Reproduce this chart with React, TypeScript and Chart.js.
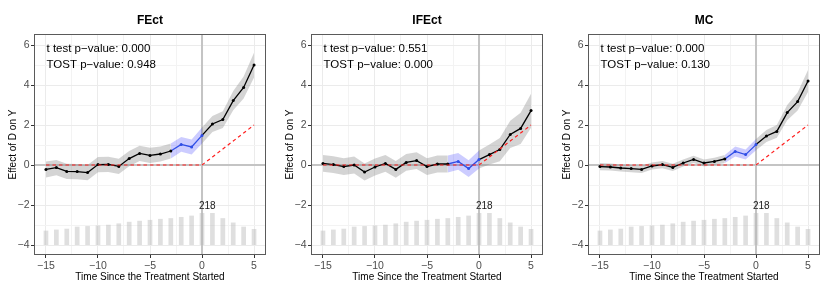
import React, { useEffect, useRef } from "react";
import { Chart, registerables } from "chart.js";
Chart.register(...registerables);

// ---- data ----
const periods = [-15, -14, -13, -12, -11, -10, -9, -8, -7, -6, -5, -4, -3, -2, -1, 0, 1, 2, 3, 4, 5];
const counts = [98, 105, 111, 125, 129, 133, 138, 147, 158, 165, 171, 178, 183, 191, 200, 218, 218, 183, 153, 125, 109];
const trueEffect = [0, 0, 0, 0, 0, 0, 0, 0, 0, 0, 0, 0, 0, 0, 0, 0, 0.4, 0.8, 1.2, 1.6, 2.0];

const fectEst = [-0.22, -0.13, -0.32, -0.33, -0.38, 0.02, 0.03, -0.07, 0.32, 0.58, 0.48, 0.55, 0.7, 1.03, 0.9, 1.48, 2.05, 2.27, 3.22, 3.88, 5.0];
const fectHalf = [0.4, 0.38, 0.38, 0.38, 0.38, 0.38, 0.38, 0.38, 0.38, 0.38, 0.38, 0.38, 0.38, 0.37, 0.37, 0.4, 0.4, 0.42, 0.48, 0.55, 0.62];

const ifectEst = [0.08, 0.02, -0.08, 0.0, -0.35, -0.1, 0.08, -0.22, 0.13, 0.22, -0.08, 0.05, 0.05, 0.18, -0.18, 0.27, 0.52, 0.77, 1.53, 1.83, 2.72];
const ifectHalf = [0.42, 0.42, 0.42, 0.42, 0.42, 0.42, 0.42, 0.42, 0.42, 0.42, 0.42, 0.42, 0.42, 0.42, 0.42, 0.45, 0.5, 0.58, 0.68, 0.78, 0.85];

const mcEst = [-0.08, -0.1, -0.15, -0.18, -0.22, -0.05, 0.02, -0.12, 0.1, 0.28, 0.1, 0.18, 0.3, 0.68, 0.52, 1.02, 1.45, 1.68, 2.62, 3.17, 4.2];
const mcHalf = [0.18, 0.18, 0.18, 0.18, 0.18, 0.18, 0.18, 0.18, 0.18, 0.18, 0.18, 0.18, 0.2, 0.25, 0.25, 0.28, 0.3, 0.32, 0.38, 0.45, 0.55];

const panelTitles = ["FEct", "IFEct", "MC"];
const tTestP = ["0.000", "0.551", "0.000"];
const tostP = ["0.948", "0.000", "0.130"];

const windowStart = -3;
const windowEnd = 0;

const xTicks = [-15, -12.5, -10, -7.5, -5, -2.5, 0, 2.5, 5];
const xMajor = [-15, -10, -5, 0, 5];
const yTicks = [-4, -3, -2, -1, 0, 1, 2, 3, 4, 5, 6];
const yMajor = [-4, -2, 0, 2, 4, 6];

const xLabel = "Time Since the Treatment Started";
const yLabel = "Effect of D on Y";

// ---- style ----
const FONT = "'Liberation Sans', Arial, Helvetica, sans-serif";
const BLUE = "#2f4ee6";
const barBase = -4;
const barSpan = 1.6;

const fmt = (v: number) => (v < 0 ? "\u2212" + Math.abs(v) : String(v));

const panels = [
  { est: fectEst, half: fectHalf },
  { est: ifectEst, half: ifectHalf },
  { est: mcEst, half: mcHalf },
];

function Panel({ idx }: { idx: number }) {
  const ref = useRef<HTMLCanvasElement | null>(null);
  useEffect(() => {
    const { est, half } = panels[idx];
    const inWin = (x: number) => x >= windowStart && x <= windowEnd;
    const inner = (x: number) => x > windowStart && x < windowEnd;
    const grayUp = periods.map((x, i) => ({ x, y: inner(x) ? null : est[i] + half[i] }));
    const grayLo = periods.map((x, i) => ({ x, y: inner(x) ? null : est[i] - half[i] }));
    const blueUp = periods.map((x, i) => ({ x, y: inWin(x) ? est[i] + half[i] : null }));
    const blueLo = periods.map((x, i) => ({ x, y: inWin(x) ? est[i] - half[i] : null }));
    const maxCount = Math.max(...counts);
    const bars = periods.map((x, i) => ({ x, y: [barBase, barBase + (counts[i] / maxCount) * barSpan] }));

    const decor = {
      id: "decor" + idx,
      beforeDatasetsDraw(chart: any) {
        const { ctx, chartArea: a, scales } = chart;
        ctx.save();
        ctx.strokeStyle = "#c4c4c4";
        ctx.lineWidth = 2;
        const y0 = scales.y.getPixelForValue(0);
        const x0 = scales.x.getPixelForValue(0);
        ctx.beginPath();
        ctx.moveTo(a.left, y0);
        ctx.lineTo(a.right, y0);
        ctx.moveTo(x0, a.top);
        ctx.lineTo(x0, a.bottom);
        ctx.stroke();
        ctx.restore();
      },
      afterDatasetsDraw(chart: any) {
        const { ctx, chartArea: a, scales } = chart;
        ctx.save();
        const maxXs = periods.filter((_, i) => counts[i] === maxCount);
        const lx = scales.x.getPixelForValue(maxXs.reduce((s, v) => s + v, 0) / maxXs.length);
        const ly = scales.y.getPixelForValue(barBase + barSpan) - 7;
        ctx.fillStyle = "#1a1a1a";
        ctx.font = `10px ${FONT}`;
        ctx.textAlign = "center";
        ctx.textBaseline = "middle";
        ctx.fillText(String(maxCount), lx, ly);
        ctx.textAlign = "left";
        ctx.fillStyle = "#000";
        ctx.font = `11.5px ${FONT}`;
        ctx.fillText(`t test p\u2212value: ${tTestP[idx]}`, a.left + 12.5, a.top + 15);
        ctx.fillText(`TOST p\u2212value: ${tostP[idx]}`, a.left + 12.5, a.top + 31);
        ctx.strokeStyle = "#5a5a5a";
        ctx.lineWidth = 1;
        ctx.strokeRect(Math.round(a.left) + 0.5, Math.round(a.top) + 0.5, Math.round(a.right - a.left) - 1, Math.round(a.bottom - a.top) - 1);
        ctx.restore();
      },
      afterDraw(chart: any) {
        const { ctx, chartArea: a } = chart;
        ctx.save();
        ctx.fillStyle = "#000";
        ctx.textAlign = "center";
        ctx.textBaseline = "middle";
        ctx.font = `bold 12px ${FONT}`;
        ctx.fillText(panelTitles[idx], (a.left + a.right) / 2, 21);
        ctx.font = `10px ${FONT}`;
        ctx.fillText(xLabel, (a.left + a.right) / 2, 277);
        ctx.translate(13, (a.top + a.bottom) / 2);
        ctx.rotate(-Math.PI / 2);
        ctx.fillText(yLabel, 0, 0);
        ctx.restore();
      },
    };

    const chart = new Chart(ref.current as HTMLCanvasElement, {
      type: "line",
      data: {
        datasets: [
          {
            label: "est",
            data: periods.map((x, i) => ({ x, y: est[i] })),
            borderColor: "#000",
            borderWidth: 1.3,
            pointRadius: 1.5,
            pointBorderWidth: 0,
            pointBackgroundColor: (c: any) => {
              const x = periods[c.dataIndex];
              return x > windowStart && x <= windowEnd ? BLUE : "#000";
            },
            segment: {
              borderColor: (c: any) => (c.p0.parsed.x >= windowStart && c.p1.parsed.x <= windowEnd ? BLUE : "#000"),
            },
            order: 1,
          } as any,
          {
            label: "true",
            data: periods.map((x, i) => ({ x, y: trueEffect[i] })),
            borderColor: "#ff2020",
            borderWidth: 1.2,
            borderDash: [3.5, 3],
            pointRadius: 0,
            order: 0,
          },
          {
            label: "grayUp",
            data: grayUp as any,
            borderWidth: 0,
            pointRadius: 0,
            fill: "+1",
            backgroundColor: "rgba(128,128,128,0.34)",
            borderColor: "rgba(0,0,0,0)",
            order: 5,
          },
          {
            label: "grayLo",
            data: grayLo as any,
            borderWidth: 0,
            pointRadius: 0,
            fill: false,
            borderColor: "rgba(0,0,0,0)",
            order: 5,
          },
          {
            label: "blueUp",
            data: blueUp as any,
            borderWidth: 0,
            pointRadius: 0,
            fill: "+1",
            backgroundColor: "rgba(0,0,255,0.2)",
            borderColor: "rgba(0,0,0,0)",
            order: 4,
          },
          {
            label: "blueLo",
            data: blueLo as any,
            borderWidth: 0,
            pointRadius: 0,
            fill: false,
            borderColor: "rgba(0,0,0,0)",
            order: 4,
          },
          {
            type: "bar",
            label: "count",
            data: bars as any,
            backgroundColor: "rgba(185,185,185,0.45)",
            borderWidth: 0,
            barPercentage: 0.45,
            categoryPercentage: 1,
            order: 10,
          } as any,
        ],
      },
      options: {
        animation: false,
        responsive: false,
        devicePixelRatio: 1,
        layout: { padding: { top: 34, right: 11, left: 0, bottom: 0 } },
        plugins: { legend: { display: false }, tooltip: { enabled: false }, title: { display: false } },
        scales: {
          x: {
            type: "linear",
            min: -16.15,
            max: 6.15,
            offset: false,
            afterBuildTicks: (s: any) => {
              s.ticks = xTicks.map((v) => ({ value: v }));
            },
            afterFit: (s: any) => {
              s.height = 38;
            },
            ticks: {
              autoSkip: false,
              maxRotation: 0,
              padding: 2,
              color: "#4d4d4d",
              font: { size: 10.5, family: FONT },
              callback: (v: any) => (xMajor.includes(Number(v)) ? fmt(Number(v)) : ""),
            },
            grid: {
              offset: false,
              lineWidth: 1,
              tickLength: 3,
              color: (c: any) => (xMajor.includes(c.tick?.value) ? "#ebebeb" : "#f3f3f3"),
              tickColor: (c: any) => (xMajor.includes(c.tick?.value) ? "#333" : "rgba(0,0,0,0)"),
            },
            border: { display: false },
          } as any,
          y: {
            type: "linear",
            min: -4.5,
            max: 6.55,
            afterBuildTicks: (s: any) => {
              s.ticks = yTicks.map((v) => ({ value: v }));
            },
            afterFit: (s: any) => {
              s.width = 34;
            },
            ticks: {
              autoSkip: false,
              padding: 1.5,
              color: "#4d4d4d",
              font: { size: 10.5, family: FONT },
              callback: (v: any) => (yMajor.includes(Number(v)) ? fmt(Number(v)) : ""),
            },
            grid: {
              lineWidth: 1,
              tickLength: 3,
              color: (c: any) => (yMajor.includes(c.tick?.value) ? "#ebebeb" : "#f3f3f3"),
              tickColor: (c: any) => (yMajor.includes(c.tick?.value) ? "#333" : "rgba(0,0,0,0)"),
            },
            border: { display: false },
          } as any,
        },
      },
      plugins: [decor],
    });
    return () => chart.destroy();
  }, [idx]);
  return (
    <div style={{ position: "absolute", left: idx * 277, top: 0, width: 277, height: 293 }}>
      <canvas ref={ref} width={277} height={293} style={{ width: 277, height: 293, display: "block" }} />
    </div>
  );
}

export default function App() {
  return (
    <div style={{ position: "fixed", left: 0, top: 0, width: 830, height: 293, background: "#fff" }}>
      {panelTitles.map((_, i) => (
        <Panel key={i} idx={i} />
      ))}
    </div>
  );
}
